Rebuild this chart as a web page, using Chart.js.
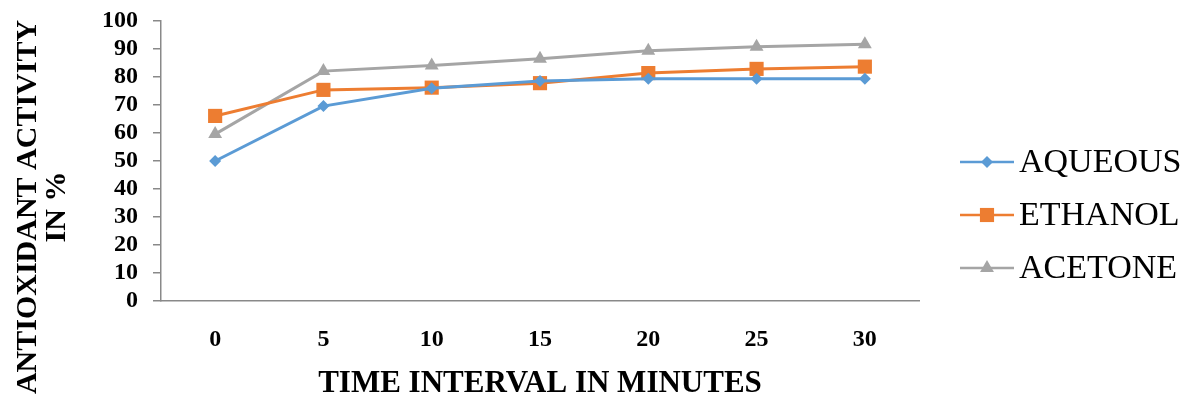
<!DOCTYPE html>
<html>
<head>
<meta charset="utf-8">
<script src="https://cdn.jsdelivr.net/npm/chart.js@4.4.1/dist/chart.umd.min.js"></script>
<style>
html,body{margin:0;padding:0;background:#fff;}
#wrap{width:1196px;height:399px;position:relative;}
</style>
</head>
<body>
<div id="wrap"><canvas id="c" width="1196" height="399"></canvas></div>
<script>
const categories = ['0', '5', '10', '15', '20', '25', '30'];
const aqueous = [50, 69.6, 76, 78.6, 79.4, 79.4, 79.4];
const ethanol = [66.1, 75.4, 76.2, 77.8, 81.4, 82.9, 83.7];
const acetone = [59.6, 82.1, 84.1, 86.5, 89.4, 90.8, 91.7];
const seriesNames = ['AQUEOUS', 'ETHANOL', 'ACETONE'];
const yTicks = [0, 10, 20, 30, 40, 50, 60, 70, 80, 90, 100];
const xTitle = 'TIME INTERVAL IN MINUTES';
const yTitle = ['ANTIOXIDANT ACTIVITY', 'IN %'];

const SERIF = '"Liberation Serif", "Times New Roman", serif';
const AXIS = '#898989';

function drawMarker(ctx, style, x, y, r, color) {
  ctx.save();
  ctx.fillStyle = color;
  ctx.beginPath();
  if (style === 'rectRot') {
    ctx.moveTo(x, y - r); ctx.lineTo(x + r, y); ctx.lineTo(x, y + r); ctx.lineTo(x - r, y);
  } else if (style === 'rect') {
    const s = Math.SQRT1_2 * r;
    ctx.rect(x - s, y - s, 2 * s, 2 * s);
  } else if (style === 'triangle') {
    const w = r * Math.sin(Math.PI / 3);
    ctx.moveTo(x, y - r); ctx.lineTo(x + w, y + r / 2); ctx.lineTo(x - w, y + r / 2);
  }
  ctx.closePath();
  ctx.fill();
  ctx.restore();
}

const customDraw = {
  id: 'customDraw',
  afterDraw(chart) {
    const ctx = chart.ctx;
    ctx.save();
    ctx.fillStyle = '#000';
    ctx.font = 'bold 30px ' + SERIF;
    ctx.textAlign = 'center';
    ctx.textBaseline = 'middle';
    const yc = 207;
    yTitle.forEach((t, i) => {
      ctx.save();
      ctx.translate(28 + i * 29, yc);
      ctx.rotate(-Math.PI / 2);
      ctx.fillText(t, 0, 0);
      ctx.restore();
    });
    ctx.restore();
    ctx.save();
    chart.data.datasets.forEach((ds, i) => {
      const y = 162 + i * 53;
      ctx.strokeStyle = ds.borderColor;
      ctx.lineWidth = 2.5;
      ctx.beginPath();
      ctx.moveTo(960, y); ctx.lineTo(1014, y);
      ctx.stroke();
      drawMarker(ctx, ds.pointStyle, 987, y, ds.legendRadius, ds.borderColor);
      ctx.fillStyle = '#000';
      ctx.font = 'normal 34px ' + SERIF;
      ctx.textAlign = 'left';
      ctx.textBaseline = 'middle';
      ctx.fillText(ds.label, 1019, y + 1);
    });
    ctx.restore();
  }
};

function build() {
  new Chart(document.getElementById('c'), {
    type: 'line',
    data: {
      labels: categories,
      datasets: [
        {label: seriesNames[0], data: aqueous, borderColor: '#5B9BD5', backgroundColor: '#5B9BD5',
         borderWidth: 3, pointStyle: 'rectRot', pointRadius: 6, pointBorderWidth: 0, legendRadius: 6, tension: 0},
        {label: seriesNames[1], data: ethanol, borderColor: '#ED7D31', backgroundColor: '#ED7D31',
         borderWidth: 3, pointStyle: 'rect', pointRadius: 10, pointBorderWidth: 0, legendRadius: 10, tension: 0},
        {label: seriesNames[2], data: acetone, borderColor: '#A5A5A5', backgroundColor: '#A5A5A5',
         borderWidth: 3, pointStyle: 'triangle', pointRadius: 8, pointBorderWidth: 0, legendRadius: 8, tension: 0}
      ]
    },
    options: {
      responsive: false,
      animation: false,
      devicePixelRatio: 1,
      layout: {padding: {top: 21, left: 0, right: 277, bottom: 0}},
      plugins: {legend: {display: false}, tooltip: {enabled: false}, title: {display: false}},
      scales: {
        x: {
          type: 'category',
          offset: true,
          grid: {display: false},
          border: {display: true, color: AXIS, width: 1.5},
          ticks: {color: '#000', font: {family: SERIF, size: 24, weight: 'bold'}, padding: 16, maxRotation: 0},
          title: {display: true, text: xTitle, color: '#000', font: {family: SERIF, size: 31, weight: 'bold', lineHeight: 1}, padding: {top: 0, bottom: 0}},
          afterFit(scale) { scale.height = 98; scale.paddingLeft = 0; scale.paddingRight = 0; }
        },
        y: {
          min: 0, max: 100,
          afterBuildTicks(scale) { scale.ticks = yTicks.map(v => ({value: v})); },
          grid: {display: true, drawOnChartArea: false, drawTicks: true, tickLength: 8, color: AXIS, lineWidth: 1.5},
          border: {display: true, color: AXIS, width: 1.5},
          ticks: {color: '#000', font: {family: SERIF, size: 24, weight: 'bold'}, padding: 15, autoSkip: false, stepSize: 10},
          afterFit(scale) { scale.width = 161; scale.paddingTop = 0; scale.paddingBottom = 0; }
        }
      }
    },
    plugins: [customDraw]
  });
}
if (document.fonts && document.fonts.load) {
  Promise.all([
    document.fonts.load('bold 24px "Liberation Serif"'),
    document.fonts.load('34px "Liberation Serif"')
  ]).then(build, build);
} else { build(); }
</script>
</body>
</html>
